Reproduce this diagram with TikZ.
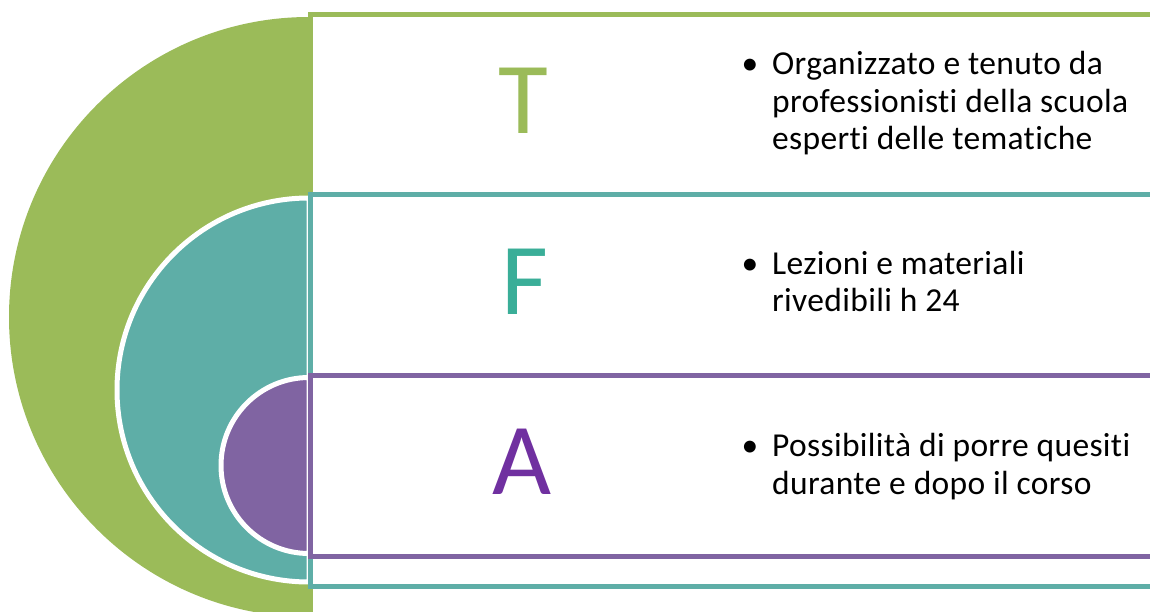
\documentclass[tikz,border=0pt]{standalone}
\usepackage{fontspec}
\setmainfont{Carlito}
\newfontfamily\testo{Carlito}[Ligatures=NoCommon, LetterSpace=1]
\definecolor{verde}{HTML}{9BBB59}
\definecolor{acqua}{HTML}{5EAEA7}
\definecolor{viola}{HTML}{8064A2}
\tikzset{
  band/.style={fill=white, line width=5pt},
  disco/.style={draw=white, line width=5pt},
  letter/.style={font=\fontsize{102}{102}\selectfont, inner sep=0pt},
  bullettext/.style={font=\testo\fontsize{33.5}{37.5}\selectfont, align=left, anchor=base west, inner sep=0pt}
}
\newcommand{\punto}{\llap{\textbullet\hspace{14pt}}}
\begin{document}
\begin{tikzpicture}[x=1pt, y=1pt]
\useasboundingbox (0,0) rectangle (1150,611);
\clip (0,0) rectangle (1150,611);
% outer level
\fill[verde] (309,594) arc[start angle=90, end angle=270, radius=300] -- cycle;
\draw[band, draw=verde] (310,596.5) rectangle (1160,-10);
% middle level
\fill[acqua, disco] (309,413) arc[start angle=90, end angle=270, radius=192] -- cycle;
\draw[band, draw=acqua] (310,416.5) rectangle (1160,25);
% inner level
\fill[viola, disco] (309,233.5) arc[start angle=90, end angle=270, radius=88] -- cycle;
\draw[band, draw=viola] (310,235.5) rectangle (1160,54.5);
% letters
\node[letter, text=verde] (letterT) at (523,510.5) {T};
\node[letter, text={rgb,255:red,58;green,174;blue,152}] (letterF) at (524.5,329.5) {F};
\node[letter, text={rgb,255:red,112;green,48;blue,160}] (letterA) at (522.5,149) {A};
% bullets (base = last line)
\node[bullettext] (textT) at (772,461) {\punto Organizzato e tenuto da\\professionisti della scuola\\esperti delle tematiche};
\node[bullettext] (textF) at (772,299) {\punto Lezioni e materiali\\rivedibili h 24};
\node[bullettext] (textA) at (772,117) {\punto Possibilità di porre quesiti\\durante e dopo il corso};
\end{tikzpicture}
\end{document}
